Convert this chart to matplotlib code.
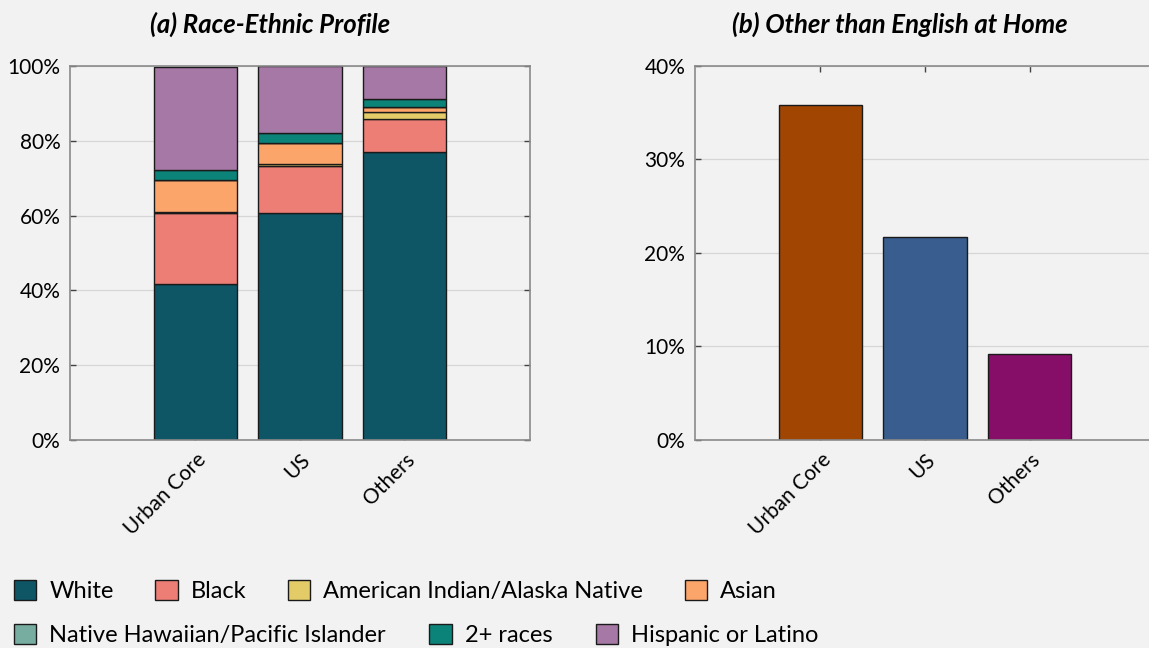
import numpy as np
import matplotlib as mpl
mpl.use("Agg")
import matplotlib.pyplot as plt
from matplotlib.patches import Patch
from matplotlib.ticker import PercentFormatter

plt.rcParams['font.family'] = ['Lato', 'DejaVu Sans']

# data (percent)
places = ['Urban Core', 'US', 'Others']
groups = ['White', 'Black', 'American Indian/Alaska Native', 'Asian',
          'Native Hawaiian/Pacific Islander', '2+ races', 'Hispanic or Latino']
white = [41.6, 60.8, 77.1]
black = [19.0, 12.4, 8.6]
aian = [0.3, 0.7, 1.9]
asian = [8.6, 5.4, 1.4]
nhpi = [0.1, 0.2, 0.1]
multi = [2.6, 2.5, 2.0]
hispanic = [27.6, 18.0, 8.9]
shares = [white, black, aian, asian, nhpi, multi, hispanic]
group_colors = ['#0e5566', '#ec7e76', '#e3cc67', '#fca56b', '#77ada1', '#0b8378', '#a678a6']

non_english = [35.8, 21.7, 9.2]
ne_colors = ['#a14503', '#385d8e', '#870e68']

bg = '#f2f2f2'
fig = plt.figure(figsize=(11.49, 6.48), dpi=100, facecolor=bg)
ax1 = fig.add_axes([0.0609, 0.321, 0.4003, 0.5772])
ax2 = fig.add_axes([0.6049, 0.321, 0.4003, 0.5772])

x = np.arange(len(places))

def style(ax, ymax, step):
    ax.set_facecolor(bg)
    ax.set_xlim(-1.2, 3.2)
    ax.set_ylim(0, ymax)
    ax.set_yticks(np.arange(0, ymax + 0.1, step))
    ax.yaxis.set_major_formatter(PercentFormatter(decimals=0))
    ax.set_xticks(x)
    ax.set_xticklabels(places, rotation=45, ha='right', rotation_mode='anchor')
    ax.tick_params(direction='in', top=True, right=True, length=4, width=1,
                   color='#444444', labelsize=15, pad=7)
    ax.grid(axis='y', color='#d6d6d6', lw=0.9)
    ax.set_axisbelow(True)
    for s in ax.spines.values():
        s.set_color('#8a8a8a')
        s.set_linewidth(1.2)

# (a) stacked shares
bottom = np.zeros(len(places))
for vals, col in zip(shares, group_colors):
    ax1.bar(x, vals, 0.8, bottom=bottom, color=col, edgecolor='#1a1a1a', lw=1)
    bottom += np.array(vals)
style(ax1, 100, 20)
ax1.set_title('(a) Race-Ethnic Profile', fontsize=18.5, fontweight='bold',
              style='italic', x=0.435, pad=24)

# (b) other than English at home
ax2.bar(x, non_english, 0.8, color=ne_colors, edgecolor='#1a1a1a', lw=1)
style(ax2, 40, 10)
ax2.set_title('(b) Other than English at Home', fontsize=18.5, fontweight='bold',
              style='italic', x=0.445, pad=24)

handles = [Patch(facecolor=c, edgecolor='#1a1a1a', lw=1) for c in group_colors]
kw = dict(frameon=False, fontsize=17, handlelength=0.95, handleheight=0.95,
          handletextpad=0.55, borderaxespad=0, borderpad=0)
fig.legend(handles[:4], groups[:4], loc='center left', ncol=4, columnspacing=1.76,
           bbox_to_anchor=(0.012, 0.088), **kw)
fig.legend(handles[4:], groups[4:], loc='center left', ncol=3, columnspacing=1.84,
           bbox_to_anchor=(0.012, 0.020), **kw)

fig.savefig('out.png', dpi=100, facecolor=bg)
